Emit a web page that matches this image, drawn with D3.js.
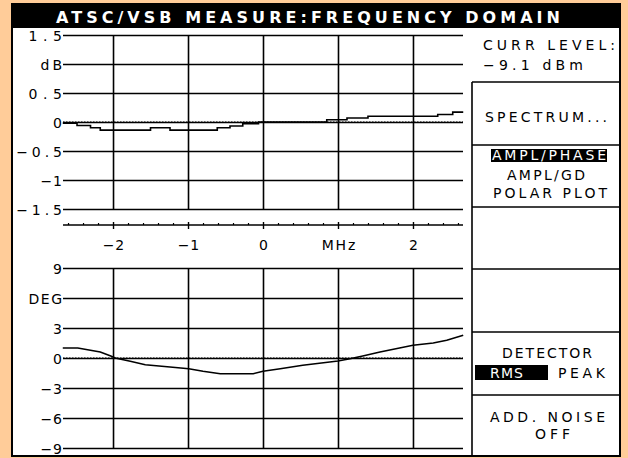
<!DOCTYPE html>
<html>
<head>
<meta charset="utf-8">
<script src="https://cdn.jsdelivr.net/npm/d3@7"></script>
<style>
  html, body { margin: 0; padding: 0; background: #ffcc99; }
  svg { display: block; }
  text { font-family: "DejaVu Sans", "Liberation Sans", sans-serif; fill: #000; }
</style>
</head>
<body>
<svg width="628" height="458"></svg>
<script>
// amplitude trace (dB) vs frequency (MHz)
const ampFreq = [-2.67, -2.48, -2.3, -2.17, -1.5, -1.24, -0.61, -0.44, -0.27, -0.06, 0.85, 1.12, 1.4, 2.33, 2.53, 2.67];
const ampDb   = [-0.02, -0.06, -0.1, -0.14, -0.1, -0.14, -0.1, -0.07, -0.03, 0, 0.04, 0.07, 0.1, 0.13, 0.17, 0.17];

// phase trace (deg) vs frequency (MHz)
const phaseFreq = [-2.67, -2.47, -2.17, -2.03, -1.97, -1.77, -1.57, -1.24, -0.99, -0.8, -0.57, -0.31, -0.13, 0, 0.23, 0.53, 0.89, 1.0, 1.16, 1.33, 1.56, 2.0, 2.27, 2.45, 2.67];
const phaseDeg  = [1.0, 1.0, 0.6, 0.2, 0.0, -0.33, -0.67, -0.9, -1.07, -1.33, -1.57, -1.57, -1.57, -1.33, -1.07, -0.73, -0.4, -0.3, -0.07, 0.2, 0.6, 1.27, 1.5, 1.77, 2.27];

// tick values and labels
const ampTicks = [1.5, 1, 0.5, 0, -0.5, -1, -1.5];
const ampLabels = ["1.5", "dB", "0.5", "0", "\u22120.5", "\u22121", "\u22121.5"];
const phaseTicks = [9, 6, 3, 0, -3, -6, -9];
const phaseLabels = ["9", "DEG", "3", "0", "\u22123", "\u22126", "\u22129"];
const freqTicks = [-2, -1, 0, 1, 2];
const freqLabels = ["\u22122", "\u22121", "0", "MHz", "2"];

const svg = d3.select('svg');

// frame + title bar
svg.append('rect').attr('x', 11).attr('y', 3).attr('width', 610).attr('height', 454).attr('fill', '#000');
svg.append('rect').attr('x', 13).attr('y', 28).attr('width', 606).attr('height', 427).attr('fill', '#fff');

const monoLen = (s, w) => s.length > 1 ? s.length * w - 3 : null;

svg.append('text')
  .attr('x', 56).attr('y', 23)
  .attr('textLength', 504).attr('lengthAdjust', 'spacing')
  .style('font-size', '16px').style('font-weight', 'bold').style('fill', '#fff')
  .text('ATSC/VSB MEASURE:FREQUENCY DOMAIN');

const left = 63, right = 463;
const x = d3.scaleLinear().domain([-2.667, 2.667]).range([left, right]);
const yAmp = d3.scaleLinear().domain([-1.5, 1.5]).range([209, 35]);
const yPh = d3.scaleLinear().domain([-9, 9]).range([448, 268]);

function drawPlot(y, ticks, labels, fx, fy) {
  const g = svg.append('g');

  // horizontal grid + labels
  const ya = g.append('g')
    .attr('transform', `translate(${right},0)`)
    .call(d3.axisLeft(y).tickValues(ticks).tickSize(right - left).tickPadding(1)
      .tickFormat((d, i) => labels[i]));
  ya.select('.domain').remove();
  ya.selectAll('line').attr('stroke', '#000').attr('stroke-width', 1.6);
  ya.selectAll('text')
    .style('font-size', '14px')
    .attr('dy', '0.36em')
    .each(function () {
      const t = d3.select(this).text();
      const L = monoLen(t, 12.2);
      if (L) d3.select(this).attr('textLength', L).attr('lengthAdjust', 'spacing');
    });

  // vertical grid
  const [y0, y1] = y.range();
  const xa = g.append('g')
    .attr('transform', `translate(0,${y0})`)
    .call(d3.axisBottom(x).tickValues(freqTicks).tickSize(-(y0 - y1)).tickFormat(''));
  xa.select('.domain').remove();
  xa.selectAll('line').attr('stroke', '#000').attr('stroke-width', 1.6);

  // zero reference
  g.append('line')
    .attr('x1', left).attr('x2', right).attr('y1', y(0)).attr('y2', y(0))
    .attr('stroke', '#000').attr('stroke-width', 1).attr('stroke-dasharray', '1.5,1.5');

  // trace
  const pts = fx.map((f, i) => [f, fy[i]]);
  g.append('path')
    .datum(pts)
    .attr('fill', 'none').attr('stroke', '#000').attr('stroke-width', 1.6)
    .attr('d', d3.line().x(d => x(d[0])).y(d => y(d[1]))
      .curve(y === yAmp ? d3.curveStepAfter : d3.curveLinear));
}

drawPlot(yAmp, ampTicks, ampLabels, ampFreq, ampDb);
drawPlot(yPh, phaseTicks, phaseLabels, phaseFreq, phaseDeg);

// frequency axis between the plots
const minor = d3.range(-26, 27, 2).map(d => d / 10).filter(d => Math.abs(d % 1) > 0.01);
const fa = svg.append('g').attr('transform', 'translate(0,225)');
fa.call(d3.axisBottom(x).tickValues(minor).tickSize(-2).tickSizeOuter(0).tickFormat(''));
fa.select('.domain').attr('stroke', '#000').attr('stroke-width', 1.4).attr('d', `M${left},0H${right}`);
fa.selectAll('line').attr('stroke', '#000').attr('stroke-width', 1.2);
const fa2 = svg.append('g').attr('transform', 'translate(0,222)');
fa2.call(d3.axisBottom(x).tickValues(freqTicks).tickSize(7).tickPadding(11)
  .tickFormat((d, i) => freqLabels[i]));
fa2.select('.domain').remove();
fa2.selectAll('line').attr('stroke', '#000').attr('stroke-width', 1.4);
fa2.selectAll('text').style('font-size', '14px')
  .each(function () {
    const t = d3.select(this).text();
    const L = monoLen(t, 12.2);
    if (L) d3.select(this).attr('textLength', L).attr('lengthAdjust', 'spacing');
  });

// right-hand soft-key panel
const panelX = 472, panelR = 619;
const dividers = [82, 145, 207, 269, 332, 395];
svg.append('line').attr('x1', panelX).attr('x2', panelX).attr('y1', 82).attr('y2', 455)
  .attr('stroke', '#000').attr('stroke-width', 1.6);
dividers.forEach(d => {
  svg.append('line').attr('x1', panelX).attr('x2', panelR).attr('y1', d).attr('y2', d)
    .attr('stroke', '#000').attr('stroke-width', 1.6);
});

const hl = [
  { x: 491, y: 149, w: 116, h: 13 },
  { x: 475, y: 365, w: 73, h: 15 }
];
hl.forEach(r => svg.append('rect').attr('x', r.x).attr('y', r.y).attr('width', r.w).attr('height', r.h).attr('fill', '#000'));

const panelText = [
  { t: 'CURR LEVEL:', x: 483, y: 50, w: 132, a: 'start' },
  { t: '\u22129.1 dBm', x: 483, y: 70, w: 100, a: 'start' },
  { t: 'SPECTRUM...', x: 485, y: 122, w: 122, a: 'start' },
  { t: 'AMPL/PHASE', x: 492, y: 160, w: 114, a: 'start', inv: true },
  { t: 'AMPL/GD', x: 507, y: 180, w: 78, a: 'start' },
  { t: 'POLAR PLOT', x: 493, y: 198, w: 114, a: 'start' },
  { t: 'DETECTOR', x: 502, y: 358, w: 90, a: 'start' },
  { t: 'RMS', x: 490, y: 378, w: 33, a: 'start', inv: true },
  { t: 'PEAK', x: 558, y: 378, w: 47, a: 'start' },
  { t: 'ADD. NOISE', x: 490, y: 422, w: 115, a: 'start' },
  { t: 'OFF', x: 535, y: 439, w: 35, a: 'start' }
];
panelText.forEach(p => {
  svg.append('text')
    .attr('x', p.x).attr('y', p.y)
    .attr('textLength', p.w).attr('lengthAdjust', 'spacing')
    .style('font-size', '14px')
    .style('fill', p.inv ? '#fff' : '#000')
    .text(p.t);
});
</script>
</body>
</html>
